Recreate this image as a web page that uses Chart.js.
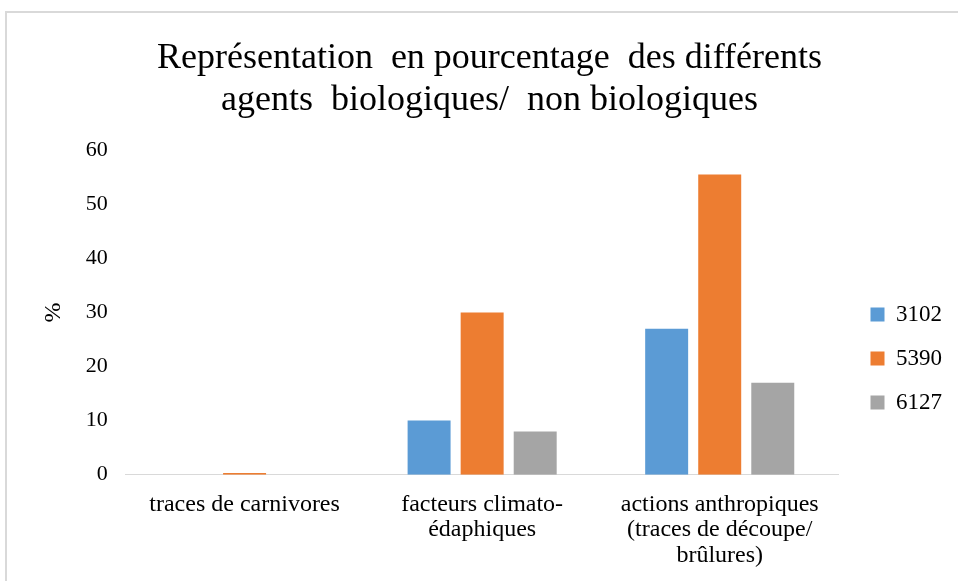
<!DOCTYPE html>
<html>
<head>
<meta charset="utf-8">
<script src="https://cdn.jsdelivr.net/npm/chart.js@4/dist/chart.umd.min.js"></script>
<style>
  html, body { margin: 0; padding: 0; background: #fff; overflow: hidden; }
  #frame {
    position: absolute; left: 5px; top: 11px; width: 953px; height: 575px;
    border-left: 2px solid #d9d9d9; border-top: 2px solid #d9d9d9;
    box-sizing: border-box;
  }
  #wrap { position: absolute; left: 0; top: 0; width: 951px; height: 572px; }
</style>
</head>
<body>
<div id="frame"><div id="wrap"><canvas id="myChart"></canvas></div></div>
<script>
// data
const categories = [
  ["traces de carnivores"],
  ["facteurs climato-", "édaphiques"],
  ["actions anthropiques", "(traces de découpe/", "brûlures)"]
]
const series3102 = [0, 10, 27]
const series5390 = [0.3, 30, 55.5]
const series6127 = [0, 8, 17]
const yTicks = [0, 10, 20, 30, 40, 50, 60]

const serif = "'Liberation Serif', 'Times New Roman', serif"

let ctx = document.getElementById('myChart')
let myChart = new Chart(ctx, {
  type: 'bar',
  data: {
    labels: categories,
    datasets: [
      { label: '3102', data: series3102, backgroundColor: '#5b9bd5' },
      { label: '5390', data: series5390, backgroundColor: '#ed7d31' },
      { label: '6127', data: series6127, backgroundColor: '#a5a5a5' }
    ]
  },
  options: {
    responsive: true,
    maintainAspectRatio: false,
    animation: false,
    datasets: {
      bar: { categoryPercentage: 0.67, barPercentage: 0.81 }
    },
    layout: { padding: { left: 20, right: 6, top: 24, bottom: 0 } },
    plugins: {
      title: {
        display: true,
        text: ['Représentation  en pourcentage  des différents', 'agents  biologiques/  non biologiques'],
        font: { family: serif, size: 36, weight: 'normal', lineHeight: 1.17 },
        color: '#000',
        padding: { top: 0, bottom: 29 }
      },
      legend: {
        position: 'right',
        title: { display: true, text: ' ', font: { size: 1 }, padding: { top: 94, bottom: 0 } },
        labels: {
          font: { family: serif, size: 23 },
          color: '#000',
          boxWidth: 14,
          boxHeight: 14,
          padding: 21
        }
      },
      tooltip: { enabled: false }
    },
    scales: {
      x: {
        grid: { display: false, drawTicks: false },
        border: { display: true, color: '#d9d9d9', width: 1 },
        ticks: {
          font: { family: serif, size: 24, lineHeight: 1.06 },
          color: '#000',
          maxRotation: 0,
          padding: 17
        }
      },
      y: {
        min: 0,
        max: 60,
        afterBuildTicks: axis => { axis.ticks = yTicks.map(v => ({ value: v })) },
        grid: { display: false, drawTicks: false },
        border: { display: false },
        ticks: {
          font: { family: serif, size: 22 },
          color: '#000',
          padding: 18
        },
        title: {
          display: true,
          text: '%',
          font: { family: serif, size: 24 },
          color: '#000',
          padding: { top: 12, bottom: 0 }
        }
      },
      // empty spacer between plot and legend
      gap: {
        position: 'right',
        display: true,
        grid: { display: false, drawTicks: false },
        border: { display: false },
        ticks: { display: false },
        afterFit: axis => { axis.width = 11 }
      }
    }
  }
})
</script>
</body>
</html>
